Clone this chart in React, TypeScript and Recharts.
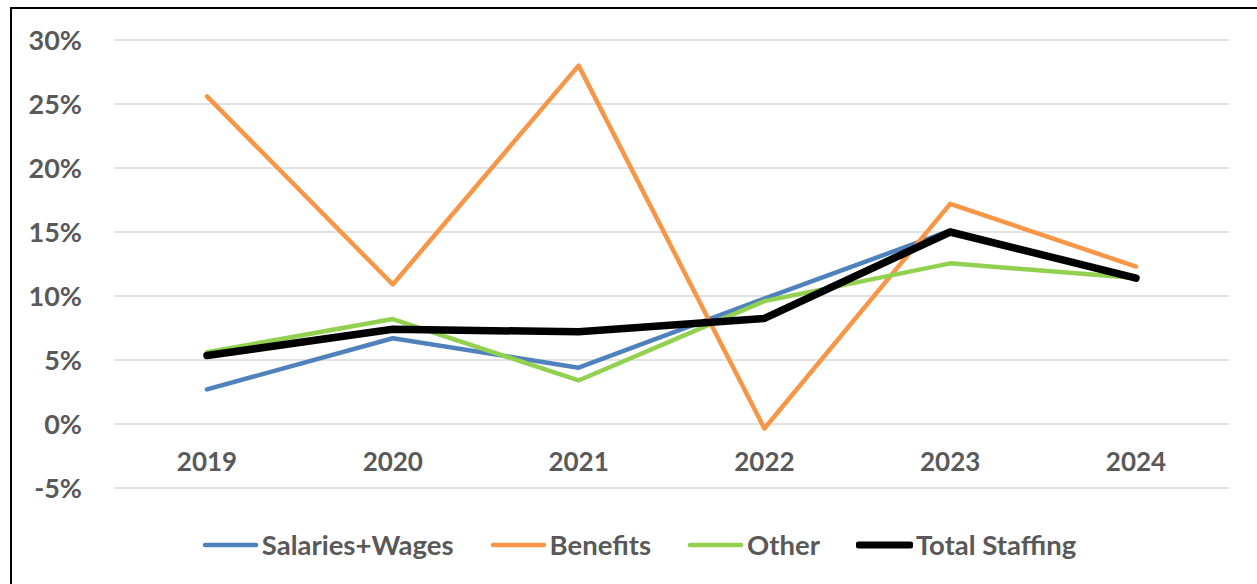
import React from 'react';
import { LineChart, Line, XAxis, YAxis, CartesianGrid, Legend } from 'recharts';

const years = ['2019', '2020', '2021', '2022', '2023', '2024'];
const salariesWages = [2.7, 6.7, 4.4, 9.8, 15.1, 11.4];
const benefits = [25.6, 10.9, 28.0, -0.35, 17.2, 12.3];
const other = [5.6, 8.2, 3.4, 9.6, 12.55, 11.4];
const totalStaffing = [5.35, 7.4, 7.2, 8.25, 15.0, 11.4];
const yTicks = [-5, 0, 5, 10, 15, 20, 25, 30];

const series = [
  { key: 'salaries', name: 'Salaries+Wages', color: '#4F81BD', width: 4.5 },
  { key: 'benefits', name: 'Benefits', color: '#F79646', width: 4.5 },
  { key: 'other', name: 'Other', color: '#92D050', width: 4.5 },
  { key: 'total', name: 'Total Staffing', color: '#000000', width: 7.5 },
];

const data = years.map((year, i) => ({
  year,
  salaries: salariesWages[i],
  benefits: benefits[i],
  other: other[i],
  total: totalStaffing[i],
}));

const textColor = '#595959';

const LegendContent = () => (
  <div style={{ display: 'flex', justifyContent: 'center', alignItems: 'center' }}>
    {series.map((s, i) => (
      <div
        key={s.key}
        style={{ display: 'flex', alignItems: 'center', marginLeft: i === 0 ? 0 : 36 }}
      >
        <svg width={57} height={10} style={{ marginRight: 3 }}>
          <line
            x1={3}
            y1={5}
            x2={54}
            y2={5}
            stroke={s.color}
            strokeWidth={s.key === 'total' ? 7 : 4.5}
            strokeLinecap="round"
          />
        </svg>
        <span style={{ color: textColor, fontWeight: 700, fontSize: 27.5 }}>{s.name}</span>
      </div>
    ))}
  </div>
);

export default function App() {
  return (
    <div
      style={{
        position: 'fixed',
        left: 0,
        top: 0,
        width: 1257,
        height: 584,
        overflow: 'hidden',
        background: '#fff',
        fontFamily: 'Lato, "Open Sans", sans-serif',
      }}
    >
      <div
        style={{
          position: 'absolute',
          left: 10,
          top: 7,
          width: 1270,
          height: 600,
          border: '2px solid #000',
        }}
      />
      <div style={{ position: 'absolute', left: 0, top: 0 }}>
        <LineChart
          width={1257}
          height={584}
          data={data}
          margin={{ top: 40, right: 28, bottom: 66, left: 0 }}
        >
          <CartesianGrid vertical={false} stroke="#D9D9D9" strokeWidth={1.5} />
          <XAxis
            dataKey="year"
            axisLine={false}
            tickLine={false}
            tickSize={0}
            tickMargin={0}
            height={30}
            padding={{ left: 93, right: 93 }}
            tick={{ fill: textColor, fontSize: 26, fontWeight: 700, dy: -35 }}
          />
          <YAxis
            domain={[-5, 30]}
            ticks={yTicks}
            interval={0}
            axisLine={false}
            tickLine={false}
            tickSize={0}
            tickMargin={32}
            width={114}
            tickFormatter={(v) => `${v}%`}
            tick={{ fill: textColor, fontSize: 27, fontWeight: 700 }}
          />
          {series.map((s) => (
            <Line
              key={s.key}
              type="linear"
              dataKey={s.key}
              name={s.name}
              stroke={s.color}
              strokeWidth={s.width}
              strokeLinecap="round"
              strokeLinejoin="round"
              dot={false}
              activeDot={false}
              isAnimationActive={false}
            />
          ))}
          <Legend
            verticalAlign="middle"
            align="center"
            content={<LegendContent />}
            wrapperStyle={{ top: 528, left: 0, width: 1278, height: 36 }}
          />
        </LineChart>
      </div>
    </div>
  );
}
